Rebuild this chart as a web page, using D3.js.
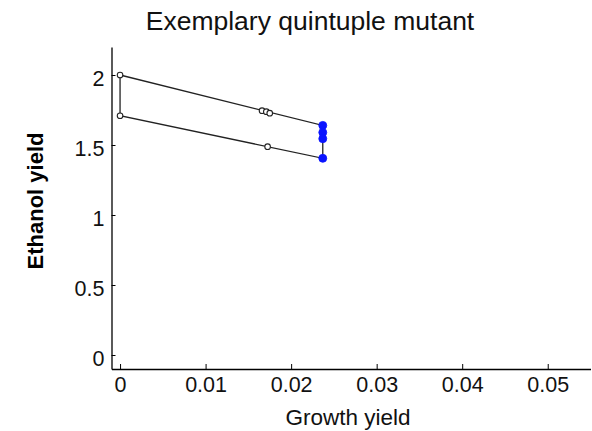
<!DOCTYPE html>
<html><head><meta charset="utf-8">
<script src="https://cdn.jsdelivr.net/npm/d3@7"></script>
<style>body{margin:0;background:#fff}svg{display:block}text{font-family:"Liberation Sans",Arial,sans-serif}</style>
</head><body>
<script>
const title = "Exemplary quintuple mutant";
const xLabel = "Growth yield";
const yLabel = "Ethanol yield";
const xTicks = [0, 0.01, 0.02, 0.03, 0.04, 0.05];
const xTickLabels = ["0", "0.01", "0.02", "0.03", "0.04", "0.05"];
const yTicks = [0, 0.5, 1, 1.5, 2];
const yTickLabels = ["0", "0.5", "1", "1.5", "2"];
// boundary polygon of the production envelope
const boundaryX = [0, 0.0237, 0.0237, 0, 0];
const boundaryY = [2.0, 1.64, 1.405, 1.709, 2.0];
// open markers
const openX = [0, 0, 0.0166, 0.0171, 0.0175, 0.01725];
const openY = [2.0, 1.709, 1.745, 1.738, 1.727, 1.488];
// blue filled markers
const blueX = [0.0237, 0.0237, 0.0237, 0.0237];
const blueY = [1.64, 1.59, 1.545, 1.405];

const W = 592, H = 431;
const svg = d3.select("body").append("svg").attr("width", W).attr("height", H);
const x = d3.scaleLinear().domain([-0.001, 0.055]).range([111.5, 590.5]);
const y = d3.scaleLinear().domain([-0.1, 2.2]).range([369, 47]);

// axes
const xAxis = d3.axisBottom(x).tickValues(xTicks).tickFormat((d, i) => xTickLabels[i]).tickSizeInner(-5).tickSizeOuter(0).tickPadding(8);
const gx = svg.append("g").attr("transform", `translate(0,${y.range()[0]})`).call(xAxis);
gx.select(".domain").attr("stroke", "#000").attr("stroke-width", 1.3);
gx.selectAll(".tick line").attr("stroke", "#000");
gx.selectAll(".tick text").attr("font-size", 21.5).attr("fill", "#111");

const yAxis = d3.axisLeft(y).tickValues(yTicks).tickFormat((d, i) => yTickLabels[i]).tickSizeInner(-4).tickSizeOuter(0).tickPadding(7);
const gy = svg.append("g").attr("transform", `translate(${x.range()[0]},0)`).call(yAxis);
gy.select(".domain").attr("stroke", "#000").attr("stroke-width", 1.3);
gy.selectAll(".tick line").attr("stroke", "#000");
gy.selectAll(".tick text").attr("font-size", 21.5).attr("fill", "#111").attr("dy", "0.5em");

// boundary
const line = d3.line().x(i => x(boundaryX[i])).y(i => y(boundaryY[i]));
svg.append("path").attr("d", line(d3.range(boundaryX.length)))
  .attr("fill", "none").attr("stroke", "#222").attr("stroke-width", 1.3);

// open markers
svg.append("g").selectAll("circle").data(d3.range(openX.length)).join("circle")
  .attr("cx", i => x(openX[i])).attr("cy", i => y(openY[i])).attr("r", 2.8)
  .attr("fill", "#fff").attr("stroke", "#222").attr("stroke-width", 1.1);

// blue markers
svg.append("g").selectAll("circle").data(d3.range(blueX.length)).join("circle")
  .attr("cx", i => x(blueX[i])).attr("cy", i => y(blueY[i])).attr("r", 4)
  .attr("fill", "#0a14ff").attr("stroke", "#0a14ff").attr("stroke-width", 0.8);

// title and labels
svg.append("text").attr("x", 310).attr("y", 30).attr("text-anchor", "middle")
  .attr("font-size", 26.5).attr("fill", "#111").text(title);
svg.append("text").attr("x", 348).attr("y", 425).attr("text-anchor", "middle")
  .attr("font-size", 22.5).attr("fill", "#111").text(xLabel);
svg.append("text").attr("transform", "translate(43,201) rotate(-90)").attr("text-anchor", "middle")
  .attr("font-size", 22).attr("font-weight", "bold").attr("fill", "#000").text(yLabel);
</script>
</body></html>
